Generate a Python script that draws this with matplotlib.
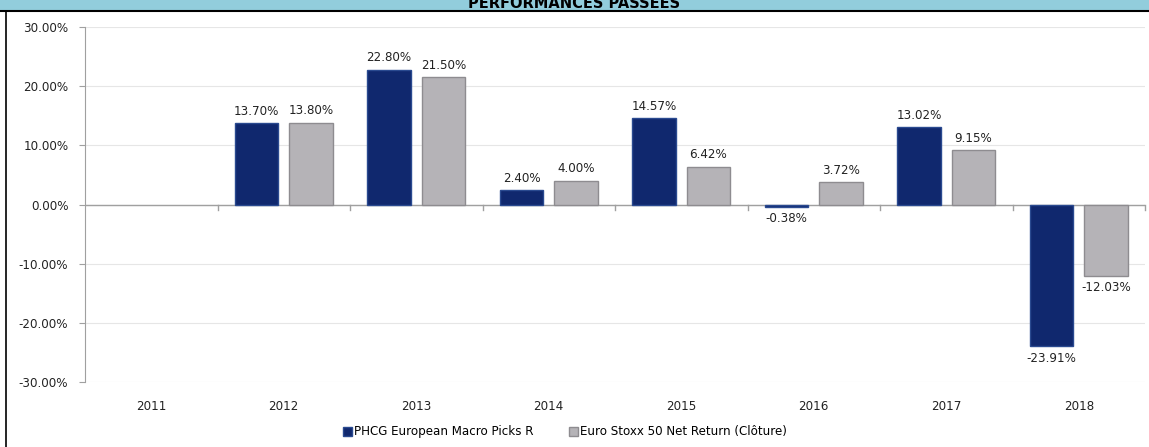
import numpy as np
import matplotlib
matplotlib.use("Agg")
import matplotlib.pyplot as plt
from matplotlib.lines import Line2D
from matplotlib.patches import Rectangle

years = ["2011", "2012", "2013", "2014", "2015", "2016", "2017", "2018"]
fund = [np.nan, 13.70, 22.80, 2.40, 14.57, -0.38, 13.02, -23.91]
index = [np.nan, 13.80, 21.50, 4.00, 6.42, 3.72, 9.15, -12.03]
series_names = ["PHCG European Macro Picks R", "Euro Stoxx 50 Net Return (Clôture)"]
yticks = [-30, -20, -10, 0, 10, 20, 30]

BLUE, BLUE_EDGE = "#10286e", "#2a4a90"
GREY, GREY_EDGE = "#b5b3b7", "#8e8c90"
FS = 8.6

W, H = 1149, 447
fig = plt.figure(figsize=(W / 100, H / 100), dpi=100)
fig.patch.set_facecolor("white")

# header band, title sits partly above the top edge as in the source
fig.patches.append(Rectangle((0, 1 - 10 / H), 1, 10 / H, transform=fig.transFigure,
                             facecolor="#92cddc", edgecolor="none", zorder=0))
fig.lines.append(Line2D([0, 1], [1 - 11 / H, 1 - 11 / H], transform=fig.transFigure,
                        color="black", lw=1.5))
fig.lines.append(Line2D([6 / W, 6 / W], [0, 1 - 11 / H], transform=fig.transFigure,
                        color="black", lw=1.2))
fig.text(0.5, 1 - 8.5 / H, "PERFORMANCES PASSEES", ha="center", va="baseline",
         fontsize=10.5, fontweight="bold", color="black")

ax = fig.add_axes([85 / W, 1 - 382 / H, (1145 - 85) / W, (382 - 27) / H])
x = np.arange(len(years))
bw, off = 0.33, 0.205
b1 = ax.bar(x - off, fund, bw, color=BLUE, edgecolor=BLUE_EDGE, lw=1.0, zorder=3,
            label=series_names[0])
b2 = ax.bar(x + off, index, bw, color=GREY, edgecolor=GREY_EDGE, lw=1.0, zorder=3,
            label=series_names[1])

for bars, vals in ((b1, fund), (b2, index)):
    for r, v in zip(bars, vals):
        if np.isnan(v):
            continue
        cx = r.get_x() + r.get_width() / 2
        if v >= 0:
            ax.annotate(f"{v:.2f}%", (cx, v), xytext=(0, 4), textcoords="offset points",
                        ha="center", va="bottom", fontsize=FS, color="#222222")
        else:
            ax.annotate(f"{v:.2f}%", (cx, v), xytext=(0, -4), textcoords="offset points",
                        ha="center", va="top", fontsize=FS, color="#222222")

ax.set_xlim(-0.5, len(years) - 0.5)
ax.set_ylim(-30, 30)
ax.set_yticks(yticks)
ax.set_yticklabels([f"{t:.2f}%" for t in yticks], fontsize=FS, color="#222222")
ax.yaxis.grid(True, color="#e6e6e6", lw=0.8, zorder=0)
ax.set_axisbelow(True)
for s in ("top", "right", "bottom"):
    ax.spines[s].set_visible(False)
ax.spines["left"].set_color("#a0a0a0")
ax.tick_params(axis="y", length=4, color="#a0a0a0", pad=8)

# zero line with category boundary ticks
ax.axhline(0, color="#a0a0a0", lw=1.0, zorder=2)
for b in np.arange(0.5, len(years) - 0.5, 1.0):
    ax.plot([b, b], [0, -0.9], color="#a0a0a0", lw=1.0, zorder=2, clip_on=False)
ax.plot([len(years) - 0.5] * 2, [0, -0.9], color="#a0a0a0", lw=1.0, zorder=2, clip_on=False)

ax.set_xticks(x)
ax.set_xticklabels(years, fontsize=FS, color="#222222")
ax.tick_params(axis="x", length=0, pad=13)

fig.legend(handles=[b1, b2], loc="center", bbox_to_anchor=(565 / W, 1 - 432 / H), ncol=2,
           frameon=False, fontsize=FS, handlelength=0.7, handleheight=0.7,
           handletextpad=0.2, columnspacing=3.0)

fig.savefig("out.png", dpi=100)
